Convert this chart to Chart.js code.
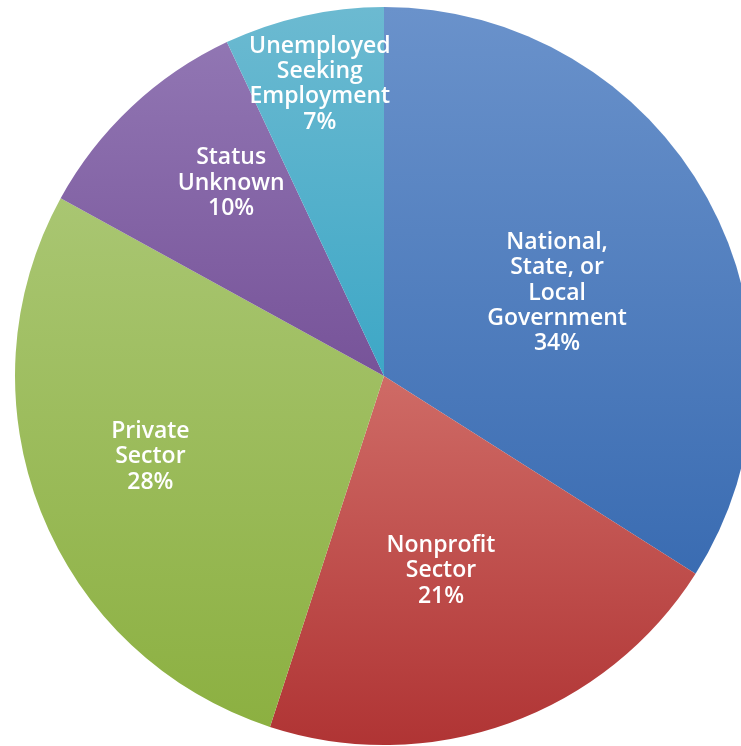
<!DOCTYPE html>
<html>
<head>
<meta charset="utf-8">
<script src="https://cdn.jsdelivr.net/npm/chart.js@4/dist/chart.umd.min.js"></script>
<style>
  html, body { margin: 0; padding: 0; background: #fff; overflow: hidden; }
  #wrap { width: 741px; height: 746px; overflow: hidden; position: relative; }
  canvas { position: absolute; left: 0; top: 0; }
</style>
</head>
<body>
<div id="wrap">
  <canvas id="pie" width="768" height="752" style="width:768px;height:752px"></canvas>
</div>
<script>
// Kategoriler ve değerler
const categories = [
    ["National,", "State, or", "Local", "Government"],
    ["Nonprofit", "Sector"],
    ["Private", "Sector"],
    ["Status", "Unknown"],
    ["Unemployed", "Seeking", "Employment"]
];
const percents = [34, 21, 28, 10, 7];

// renkler: üst (açık) / alt (koyu)
const lightColors = ["#6a92cb", "#cf6b66", "#a9c672", "#9176b3", "#6cbad1"];
const darkColors  = ["#3a6cb2", "#b03434", "#8cb041", "#775399", "#3da7c6"];

// etiketlerin yarıçap oranı ve açı kayması (derece)
const labelRadius = [0.52, 0.55, 0.67, 0.667, 0.81];
const labelShift  = [3.2, 3.5, 2.5, 4.8, 0.2];

const total = percents.reduce((a, b) => a + b, 0);

function sliceGradient(ctx) {
    const chart = ctx.chart;
    const area = chart.chartArea;
    const i = ctx.dataIndex;
    if (!area) return darkColors[i];
    const cx = (area.left + area.right) / 2;
    const cy = (area.top + area.bottom) / 2;
    const r = Math.min(area.right - area.left, area.bottom - area.top) / 2;

    let before = 0;
    for (let k = 0; k < i; k++) before += percents[k];
    const a0 = -Math.PI / 2 + before / total * 2 * Math.PI;
    const a1 = a0 + percents[i] / total * 2 * Math.PI;

    let ys = [cy, cy + r * Math.sin(a0), cy + r * Math.sin(a1)];
    for (let q = -Math.PI / 2; q <= 2 * Math.PI; q += Math.PI / 2) {
        if (q > a0 && q < a1) ys.push(cy + r * Math.sin(q));
    }
    const y0 = Math.min(...ys), y1 = Math.max(...ys);
    const g = chart.ctx.createLinearGradient(0, y0, 0, y1);
    g.addColorStop(0, lightColors[i]);
    g.addColorStop(1, darkColors[i]);
    return g;
}

const labelPlugin = {
    id: "sliceLabels",
    afterDatasetsDraw(chart) {
        const ctx = chart.ctx;
        const meta = chart.getDatasetMeta(0);
        ctx.save();
        ctx.fillStyle = "#ffffff";
        ctx.textAlign = "center";
        ctx.textBaseline = "middle";
        ctx.font = "600 23px 'Open Sans', sans-serif";
        meta.data.forEach((arc, i) => {
            const p = arc.getProps(["x", "y", "startAngle", "endAngle", "outerRadius"], true);
            const mid = (p.startAngle + p.endAngle) / 2 + labelShift[i] * Math.PI / 180;
            const rr = p.outerRadius * labelRadius[i];
            const x = p.x + Math.cos(mid) * rr;
            const y = p.y + Math.sin(mid) * rr;
            const lines = categories[i].concat([percents[i] + "%"]);
            const lh = 25.3;
            const startY = y - (lines.length - 1) * lh / 2;
            lines.forEach((t, j) => ctx.fillText(t, x, startY + j * lh));
        });
        ctx.restore();
    }
};

new Chart(document.getElementById("pie").getContext("2d"), {
    type: "pie",
    data: {
        labels: categories.map(c => c.join(" ")),
        datasets: [{
            data: percents,
            backgroundColor: sliceGradient,
            borderWidth: 0
        }]
    },
    options: {
        responsive: false,
        animation: false,
        layout: { padding: 7 },
        plugins: {
            legend: { display: false },
            tooltip: { enabled: false }
        }
    },
    plugins: [labelPlugin]
});
</script>
</body>
</html>
